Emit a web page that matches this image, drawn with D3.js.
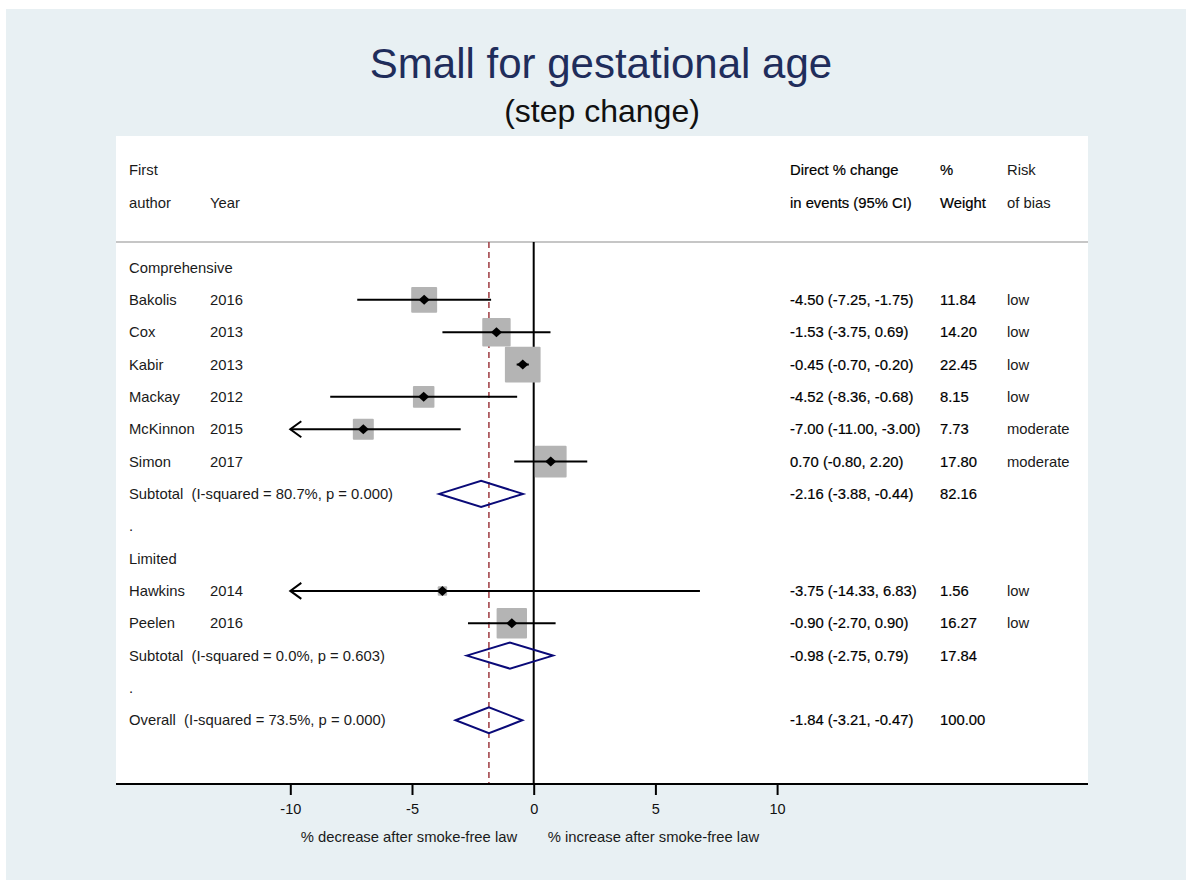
<!DOCTYPE html>
<html>
<head>
<meta charset="utf-8">
<script src="https://cdn.jsdelivr.net/npm/d3@7"></script>
<style>
  body { margin: 0; background: #fff; }
  svg text { font-family: "Liberation Sans", Arial, sans-serif; white-space: pre; }
</style>
</head>
<body>
<svg id="chart"></svg>
<script>
const rowLabels = [
  "Comprehensive", "Bakolis", "Cox", "Kabir", "Mackay", "McKinnon", "Simon",
  "Subtotal  (I-squared = 80.7%, p = 0.000)", ".", "Limited", "Hawkins", "Peelen",
  "Subtotal  (I-squared = 0.0%, p = 0.603)", ".", "Overall  (I-squared = 73.5%, p = 0.000)"
];
const rowYears = ["", "2016", "2013", "2013", "2012", "2015", "2017", "", "", "", "2014", "2016", "", "", ""];
const rowTypes = ["group", "study", "study", "study", "study", "study", "study", "pooled", "blank",
  "group", "study", "study", "pooled", "blank", "pooled"];
const estimates = [null, -4.50, -1.53, -0.45, -4.52, -7.00, 0.70, -2.16, null, null, -3.75, -0.90, -0.98, null, -1.84];
const lowerCI = [null, -7.25, -3.75, -0.70, -8.36, -11.00, -0.80, -3.88, null, null, -14.33, -2.70, -2.75, null, -3.21];
const upperCI = [null, -1.75, 0.69, -0.20, -0.68, -3.00, 2.20, -0.44, null, null, 6.83, 0.90, 0.79, null, -0.47];
const weights = [null, 11.84, 14.20, 22.45, 8.15, 7.73, 17.80, 82.16, null, null, 1.56, 16.27, 17.84, null, 100.00];
const riskOfBias = ["", "low", "low", "low", "low", "moderate", "moderate", "", "", "", "low", "low", "", "", ""];
const xTicks = [-10, -5, 0, 5, 10];
const overallEstimate = -1.84;

const width = 1186, height = 880;
const plot = { left: 116, right: 1088, top: 136, bottom: 784, sep: 242 };
const cols = { label: 129, year: 210, effect: 790, weight: 940, risk: 1007 };
const fontSize = "14.8px";

const rows = rowLabels.map((label, i) => ({
  i, label, year: rowYears[i], type: rowTypes[i],
  est: estimates[i], lo: lowerCI[i], hi: upperCI[i],
  weight: weights[i], risk: riskOfBias[i]
}));

const svg = d3.select("#chart").attr("width", width).attr("height", height);

// background + white plot region
svg.append("rect").attr("x", 6).attr("y", 9).attr("width", width - 6).attr("height", height - 9)
  .attr("fill", "#e8f0f3");
svg.append("rect").attr("x", plot.left).attr("y", plot.top)
  .attr("width", plot.right - plot.left).attr("height", plot.bottom - plot.top)
  .attr("fill", "#fff");

const xScale = d3.scaleLinear().domain([-10, 10]).range([290.3, 777.1]);
const yScale = d3.scalePoint().domain(d3.range(rows.length)).range([267.5, 720.3]);
const boxSize = d3.scaleSqrt().domain([0, 22.45]).range([0, 35.7]);
const clampX = (v) => xScale(Math.max(-10, Math.min(10, v)));

// titles
svg.append("text").attr("x", 601).attr("y", 78).attr("text-anchor", "middle")
  .attr("font-size", "42px").attr("fill", "#1f2d5b").text("Small for gestational age");
svg.append("text").attr("x", 602).attr("y", 122).attr("text-anchor", "middle")
  .attr("font-size", "32px").attr("fill", "#111").text("(step change)");

// column headers
const header = svg.append("g").attr("font-size", fontSize);
const headerText = [
  [cols.label, 170, "First", false], [cols.label, 203, "author", false], [cols.year, 203, "Year", false],
  [cols.effect, 170, "Direct % change", true], [cols.effect, 203, "in events (95% CI)", true],
  [cols.weight, 170, "%", true], [cols.weight, 203, "Weight", true],
  [cols.risk, 170, "Risk", false], [cols.risk, 203, "of bias", false]
];
header.selectAll("text").data(headerText).join("text")
  .attr("x", d => d[0]).attr("y", d => d[1]).attr("dy", "0.35em")
  .attr("fill", d => d[3] ? "#000" : "#1a1a1a")
  .attr("stroke", d => d[3] ? "#000" : "none").attr("stroke-width", 0.2)
  .text(d => d[2]);

svg.append("line").attr("x1", plot.left).attr("x2", plot.right)
  .attr("y1", plot.sep).attr("y2", plot.sep)
  .attr("stroke", "#c6c6c6").attr("stroke-width", 2);

// reference lines
svg.append("line").attr("x1", xScale(0)).attr("x2", xScale(0))
  .attr("y1", plot.sep).attr("y2", plot.bottom)
  .attr("stroke", "#000").attr("stroke-width", 2);
svg.append("line").attr("x1", xScale(overallEstimate)).attr("x2", xScale(overallEstimate))
  .attr("y1", plot.sep).attr("y2", plot.bottom)
  .attr("stroke", "#a3464c").attr("stroke-width", 1.6).attr("stroke-dasharray", "6,4");

// row text
const labels = svg.append("g").attr("font-size", fontSize);
labels.selectAll(".lab").data(rows).join("text").attr("class", "lab")
  .attr("x", cols.label).attr("y", d => yScale(d.i)).attr("dy", "0.35em")
  .attr("fill", "#1a1a1a").text(d => d.label);
labels.selectAll(".yr").data(rows.filter(d => d.year)).join("text").attr("class", "yr")
  .attr("x", cols.year).attr("y", d => yScale(d.i)).attr("dy", "0.35em")
  .attr("fill", "#1a1a1a").text(d => d.year);
labels.selectAll(".eff").data(rows.filter(d => d.est != null)).join("text").attr("class", "eff")
  .attr("x", cols.effect).attr("y", d => yScale(d.i)).attr("dy", "0.35em")
  .attr("fill", "#000").attr("stroke", "#000").attr("stroke-width", 0.2)
  .text(d => `${d.est.toFixed(2)} (${d.lo.toFixed(2)}, ${d.hi.toFixed(2)})`);
labels.selectAll(".wt").data(rows.filter(d => d.weight != null)).join("text").attr("class", "wt")
  .attr("x", cols.weight).attr("y", d => yScale(d.i)).attr("dy", "0.35em")
  .attr("fill", "#000").attr("stroke", "#000").attr("stroke-width", 0.2)
  .text(d => d.weight.toFixed(2));
labels.selectAll(".rk").data(rows.filter(d => d.risk)).join("text").attr("class", "rk")
  .attr("x", cols.risk).attr("y", d => yScale(d.i)).attr("dy", "0.35em")
  .attr("fill", "#1a1a1a").text(d => d.risk);

// study marks
const studies = rows.filter(d => d.type === "study");
const marks = svg.append("g");
marks.selectAll(".box").data(studies).join("rect").attr("class", "box")
  .attr("x", d => xScale(d.est) - boxSize(d.weight) / 2)
  .attr("y", d => yScale(d.i) - boxSize(d.weight) / 2)
  .attr("width", d => boxSize(d.weight)).attr("height", d => boxSize(d.weight))
  .attr("rx", 1).attr("fill", "#b4b4b4");
marks.selectAll(".ci").data(studies).join("line").attr("class", "ci")
  .attr("x1", d => clampX(d.lo)).attr("x2", d => clampX(d.hi))
  .attr("y1", d => yScale(d.i)).attr("y2", d => yScale(d.i))
  .attr("stroke", "#000").attr("stroke-width", 2);
marks.selectAll(".arrow").data(studies.filter(d => d.lo < -10)).join("path").attr("class", "arrow")
  .attr("d", d => {
    const x = xScale(-10), y = yScale(d.i);
    return `M${x + 11},${y - 8}L${x},${y}L${x + 11},${y + 8}`;
  })
  .attr("fill", "none").attr("stroke", "#000").attr("stroke-width", 2);
marks.selectAll(".pt").data(studies).join("path").attr("class", "pt")
  .attr("d", d => {
    const x = xScale(d.est), y = yScale(d.i);
    return `M${x - 5.5},${y}L${x},${y - 5}L${x + 5.5},${y}L${x},${y + 5}Z`;
  })
  .attr("fill", "#000");

// pooled diamonds
marks.selectAll(".pooled").data(rows.filter(d => d.type === "pooled")).join("path").attr("class", "pooled")
  .attr("d", d => {
    const y = yScale(d.i);
    return `M${xScale(d.lo)},${y}L${xScale(d.est)},${y - 13}L${xScale(d.hi)},${y}L${xScale(d.est)},${y + 13}Z`;
  })
  .attr("fill", "none").attr("stroke", "#0a0a78").attr("stroke-width", 2);

// x axis
svg.append("line").attr("x1", plot.left).attr("x2", plot.right)
  .attr("y1", plot.bottom).attr("y2", plot.bottom)
  .attr("stroke", "#000").attr("stroke-width", 2);
const xAxisGroup = svg.append("g").attr("transform", `translate(0,${plot.bottom})`)
  .call(d3.axisBottom(xScale).tickValues(xTicks).tickFormat(d => String(d))
    .tickSize(11).tickSizeOuter(0).tickPadding(9));
xAxisGroup.select(".domain").remove();
xAxisGroup.selectAll(".tick line").attr("stroke", "#000").attr("stroke-width", 2);
xAxisGroup.selectAll(".tick text").attr("font-size", "14.5px").attr("fill", "#111")
  .attr("font-family", "Liberation Sans, Arial, sans-serif");

svg.append("text").attr("x", xScale(-5) - 3).attr("y", 842).attr("text-anchor", "middle")
  .attr("font-size", fontSize).attr("fill", "#1a1a1a").text("% decrease after smoke-free law");
svg.append("text").attr("x", xScale(5) - 2).attr("y", 842).attr("text-anchor", "middle")
  .attr("font-size", fontSize).attr("fill", "#1a1a1a").text("% increase after smoke-free law");
</script>
</body>
</html>
